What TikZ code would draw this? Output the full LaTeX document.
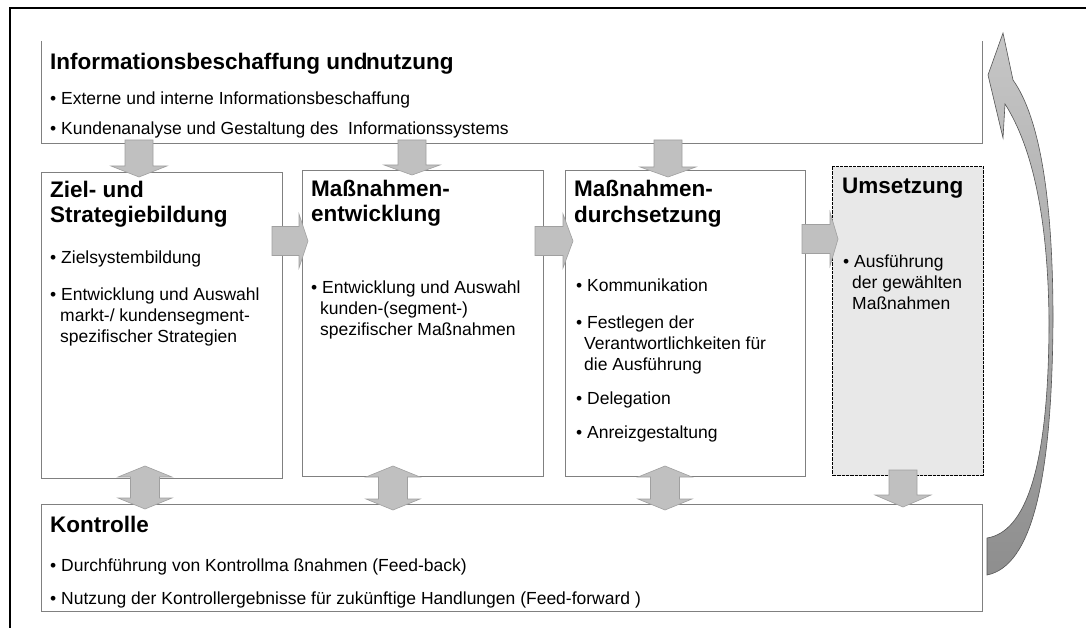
\documentclass[tikz,border=0pt]{standalone}
\usepackage{fontspec}
\setmainfont{Liberation Sans}
\definecolor{boxgray}{HTML}{808080}
\definecolor{arrfill}{HTML}{C0C0C0}
\definecolor{arredge}{HTML}{A0A0A0}
\definecolor{umsfill}{HTML}{E8E8E8}
\definecolor{cglight}{HTML}{C6C6C6}
\definecolor{cgmid}{HTML}{BBBBBB}
\definecolor{cgdark}{HTML}{8E8E8E}
\definecolor{cgedge}{HTML}{555555}
\tikzset{
  box/.style={draw=boxgray, line width=1pt, inner sep=0pt, anchor=north west},
  boxline/.style={draw=boxgray, line width=1pt},
  ums/.style={fill=umsfill, draw=black, line width=1.3pt, dash pattern=on 0.8pt off 0.5pt},
  blk/.style={fill=arrfill, draw=arredge, line width=0.6pt},
  hd/.style={anchor=base west, inner sep=0pt, font=\fontsize{22.5}{26}\selectfont\bfseries},
  tx/.style={anchor=base west, inner sep=0pt, font=\fontsize{17.5}{20}\selectfont},
}
\newcommand{\dnblk}[4]{%
  \filldraw[blk] ({#1-14},#2) -- ({#1+14},#2) -- ({#1+14},#3) -- ({#1+28},#3) -- (#1,#4) -- ({#1-28},#3) -- ({#1-14},#3) -- cycle;}
\newcommand{\rtblk}[4]{%
  \filldraw[blk] (#2,{#1-14.5}) -- (#3,{#1-14.5}) -- (#3,{#1-27}) -- (#4,#1) -- (#3,{#1+27}) -- (#3,{#1+14.5}) -- (#2,{#1+14.5}) -- cycle;}
\newcommand{\udblk}[3]{%
  \filldraw[blk] (#1,#2) -- ({#1+27},{#2+11}) -- ({#1+14.5},{#2+11}) -- ({#1+14.5},{#3-11}) -- ({#1+27},{#3-11}) -- (#1,#3) -- ({#1-27},{#3-11}) -- ({#1-14.5},{#3-11}) -- ({#1-14.5},{#2+11}) -- ({#1-27},{#2+11}) -- cycle;}
\begin{document}
\begin{tikzpicture}[x=1pt,y=-1pt]
\useasboundingbox[fill=white] (0,0) rectangle (1086,628);
% outer frame
\coordinate (fr1) at (10,628);
\coordinate (fr2) at (10,8);
\coordinate (fr3) at (1086,8);
\draw[line width=2pt, black] (fr1) -- (fr2) -- (fr3);
% boxes
\node[box, draw=none, minimum width=940pt, minimum height=102pt] (info) at (41,41) {};
\draw[boxline] (info.north west) -- (info.south west) -- (info.south east) -- (info.north east);
\node[box, minimum width=241pt, minimum height=306pt] (zs) at (41,172) {};
\node[box, minimum width=241pt, minimum height=306pt] (me) at (302,170) {};
\node[box, minimum width=240pt, minimum height=306pt] (md) at (565,170) {};
\node[box, ums, minimum width=151pt, minimum height=309pt] (um) at (832,166) {};
\node[box, minimum width=941pt, minimum height=107pt] (ko) at (41,504) {};
% block arrows
\dnblk{139}{140}{166}{177}
\dnblk{412}{140}{165}{175}
\dnblk{668}{140}{167}{177}
\rtblk{241}{272}{299}{308}
\rtblk{241}{535}{563}{573}
\rtblk{239}{802}{830}{838}
\udblk{145}{466}{509}
\udblk{393}{466}{510}
\udblk{665}{466}{510}
\dnblk{903}{470}{495}{507}
% curved feedback arrow
\shadedraw[top color=cglight, middle color=cgmid, bottom color=cgdark, draw=cgedge, line width=0.6pt]
  (987,575) .. controls (1032,566) and (1052,480) .. (1053,320)
  .. controls (1053,200) and (1040,118) .. (1013,80)
  -- (1003,33) -- (988,75) -- (1003,138) -- (1005,104)
  .. controls (1033,148) and (1048,220) .. (1049,320)
  .. controls (1049,470) and (1025,532) .. (987,538) -- cycle;
% texts: information
\node[hd] (t1) at (50,70) {Informationsbeschaffung und\hspace{-1.5pt}nutzung};
\node[tx] (t2) at (50,105) {• Externe und interne Informationsbeschaffung};
\node[tx] (t3) at (50,135) {• Kundenanalyse und Gestaltung des\ \ Informationssystems};
% box 1
\node[hd] (z1) at (50,198) {Ziel- und};
\node[hd] (z2) at (50,223) {Strategiebildung};
\node[tx] (z3) at (50,263) {• Zielsystembildung};
\node[tx] (z4) at (50,300) {• Entwicklung und Auswahl};
\node[tx] (z5) at (60,321) {markt-/ kundensegment-};
\node[tx] (z6) at (60,342) {spezifischer Strategien};
% box 2
\node[hd] (m1) at (311,197) {Maßnahmen-};
\node[hd] (m2) at (311,222) {entwicklung};
\node[tx] (m3) at (311,293) {• Entwicklung und Auswahl};
\node[tx] (m4) at (320,314) {kunden-(segment-)};
\node[tx] (m5) at (320,335) {spezifischer Maßnahmen};
% box 3
\node[hd] (d1) at (574,197) {Maßnahmen-};
\node[hd] (d2) at (574,223) {durchsetzung};
\node[tx] (d3) at (576,291) {• Kommunikation};
\node[tx] (d4) at (576,328) {• Festlegen der};
\node[tx] (d5) at (584,349) {Verantwortlichkeiten für};
\node[tx] (d6) at (584,370) {die Ausführung};
\node[tx] (d7) at (576,404) {• Delegation};
\node[tx] (d8) at (576,438) {• Anreizgestaltung};
% box 4
\node[hd] (u1) at (842,194) {Umsetzung};
\node[tx] (u2) at (843,267) {• Ausführung};
\node[tx] (u3) at (852,288) {der gewählten};
\node[tx] (u4) at (852,309) {Maßnahmen};
% Kontrolle
\node[hd] (k1) at (50,532) {Kontrolle};
\node[tx] (k2) at (50,571) {• Durchführung von Kontrollma ßnahmen (Feed-back)};
\node[tx] (k3) at (50,604) {• Nutzung der Kontrollergebnisse für zukünftige Handlungen (Feed-forward )};
\end{tikzpicture}
\end{document}
